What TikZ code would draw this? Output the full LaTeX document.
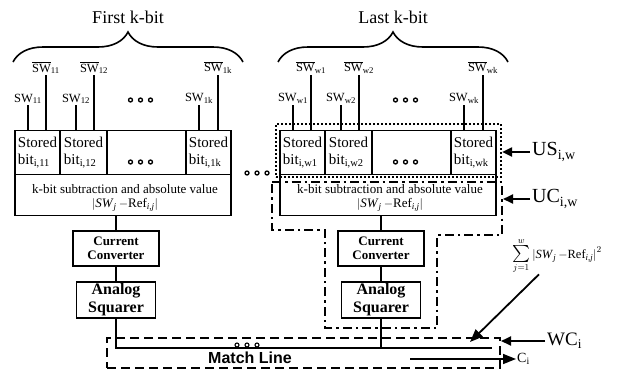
\documentclass[tikz,border=0pt]{standalone}
\usepackage{fontspec}
\usepackage{graphicx}
\setmainfont{Liberation Serif}
\newfontfamily\arialfont{Liberation Sans}
\usepackage{tikz}
\usetikzlibrary{positioning,arrows.meta,decorations.pathreplacing}

\tikzset{
  cellbox/.style={draw, line width=1.4pt, minimum height=43.6pt, inner sep=0pt, align=left, font=\fontsize{15}{17}\selectfont},
  subbox/.style={draw, line width=1.4pt, minimum width=216pt, minimum height=41.4pt, inner sep=0pt},
  subtxt/.style={inner sep=0pt, align=center, font=\fontsize{13}{15}\selectfont},
  ccbox/.style={draw, line width=1.4pt, minimum width=86pt, minimum height=35pt, inner sep=0pt, align=center, font=\fontsize{13}{14}\selectfont\bfseries},
  asbox/.style={draw, line width=1.4pt, minimum width=79pt, minimum height=36pt, inner sep=0pt, align=center, font=\fontsize{16}{18}\selectfont\bfseries},
  swlbl/.style={anchor=south, inner sep=1pt, font=\fontsize{12.5}{13}\selectfont},
  ttl/.style={font=\fontsize{18}{18}\selectfont},
  wire/.style={line width=1.5pt},
  link/.style={line width=1.4pt},
  brc/.style={line width=1.6pt, decorate, decoration={brace, amplitude=30pt}},
  usbox/.style={draw, line width=2.2pt, dash pattern=on 2pt off 2pt, inner sep=0pt},
  ucline/.style={line width=2.2pt, dash pattern=on 9pt off 4pt on 2.5pt off 4pt},
  wcbox/.style={draw, line width=2pt, dash pattern=on 9pt off 5pt, inner sep=0pt},
  bigtag/.style={anchor=west, inner sep=2pt, font=\fontsize{20}{20}\selectfont},
  bigarr/.style={line width=2pt, -{Triangle[length=10pt,width=9pt]}},
  ciarr/.style={line width=1.5pt, -{Triangle[length=13pt,width=10pt]}},
  ooo/.pic={\foreach \dx in {-10,0,10} \draw[line width=1.3pt] (\dx,0) circle (2pt);}
}

\begin{document}
\begin{tikzpicture}[x=1pt, y=-1pt]
  \useasboundingbox (0,0) rectangle (617,372);

  % one k-bit block per word position
  \foreach \b/\ox/\ix/\ttl in {f/0/1/First k-bit, l/265/w/Last k-bit}{
    \begin{scope}[xshift=\ox]
      \node[cellbox, minimum width=45pt] (\b-c1) at (37.5,152.5) {Stored\\bit\textsubscript{i,\ix1}};
      \node[cellbox, minimum width=47pt] (\b-c2) at (83.5,152.5) {Stored\\bit\textsubscript{i,\ix2}};
      \node[cellbox, minimum width=79pt] (\b-c3) at (146.5,152.5) {};
      \node[cellbox, minimum width=45pt] (\b-c4) at (208.5,152.5) {Stored\\bit\textsubscript{i,\ix k}};
      \pic at (140.5,162) {ooo};
      \node[subbox] (\b-sub) at (123,195) {};
      \node[subtxt] (\b-subt) at (125,198) {k-bit subtraction and absolute value\\[-1pt]
        $\bigl|$\textit{SW}\textsubscript{\textit{j}}\,$-$Ref\textsubscript{\textit{i,j}}$\bigr|$};
      \node[ccbox] (\b-cc) at (116,248.5) {Current\\Converter};
      \node[asbox] (\b-as) at (116,300) {Analog\\Squarer};
      \draw[link] (\b-cc.north |- \b-sub.south) -- (\b-cc.north);
      \draw[link] (\b-cc.south) -- (\b-as.north);

      % switch inputs
      \node[swlbl] (\b-s1) at (28,105) {SW\textsubscript{\ix1}};
      \node[swlbl] (\b-n1) at (46,75) {$\overline{\mbox{SW}}$\textsubscript{\ix1}};
      \node[swlbl] (\b-s2) at (76,105) {SW\textsubscript{\ix2}};
      \node[swlbl] (\b-n2) at (94,75) {$\overline{\mbox{SW}}$\textsubscript{\ix2}};
      \node[swlbl] (\b-s4) at (199,105) {SW\textsubscript{\ix k}};
      \node[swlbl] (\b-n4) at (218,75) {$\overline{\mbox{SW}}$\textsubscript{\ix k}};
      \draw[wire] (\b-s1.south) -- (\b-s1.south |- \b-c1.north);
      \draw[wire] (\b-n1.south) -- (\b-n1.south |- \b-c1.north);
      \draw[wire] (\b-s2.south) -- (\b-s2.south |- \b-c2.north);
      \draw[wire] (\b-n2.south) -- (\b-n2.south |- \b-c2.north);
      \draw[wire] (\b-s4.south) -- (\b-s4.south |- \b-c4.north);
      \draw[wire] (\b-n4.south) -- (\b-n4.south |- \b-c4.north);
      \pic at (140.5,100) {ooo};

      \draw[brc] (13,62) -- (243,62);
      \node[ttl] (\b-ttl) at (128,17) {\ttl};
    \end{scope}
  }
  \pic at (257,173) {ooo};

  % match line
  \coordinate (mlend) at (492,348);
  \draw[link] (f-as.south) |- (mlend);
  \draw[link] (l-as.south) -- (l-as.south |- mlend);
  \foreach \cx in {237,247,257}
    \draw[line width=1.1pt, fill=white] (\cx,345) circle (2pt);
  \node[font=\arialfont\bfseries\fontsize{16}{16}\selectfont] (mlbl) at (250,358) {Match Line};

  % group outlines
  \node[usbox, minimum width=225pt, minimum height=53pt] (us) at (388.5,150.5) {};
  \draw[ucline] (272,182) -- (502,182) -- (502,235) -- (437,235) -- (437,328)
    -- (325,328) -- (325,230) -- (272,230) -- cycle;
  \coordinate (uc-e) at (503,199);
  \node[wcbox, minimum width=393pt, minimum height=30pt] (wc) at (303.5,353) {};

  % tags
  \node[bigtag] (uslbl) at (530,152) {US\textsubscript{i,w}};
  \draw[bigarr] (uslbl.west) -- (us.east |- uslbl.west);
  \node[bigtag] (uclbl) at (530,199) {UC\textsubscript{i,w}};
  \draw[bigarr] (uclbl.west) -- (uc-e);
  \node[bigtag, font=\fontsize{19}{19}\selectfont] (wclbl) at (545,341) {WC\textsubscript{i}};
  \draw[bigarr] (wclbl.west) -- (wclbl.west -| wc.east);

  \coordinate (ci-start) at (410,359);
  \node[anchor=west, inner sep=1pt, font=\fontsize{14}{14}\selectfont] (cilbl) at (516,359) {C\textsubscript{i}};
  \draw[ciarr] (ci-start) -- (cilbl.west);

  \node[inner sep=1pt, font=\fontsize{12.5}{13}\selectfont] (sumlbl) at (557,256)
    {$\mathop{\raisebox{-1pt}{\scalebox{1.7}{$\sum$}}}\limits_{j=1}^{w}$\,$\bigl|$\textit{SW}\textsubscript{\textit{j}}\,$-$Ref\textsubscript{\textit{i,j}}$\bigr|^{2}$};
  \coordinate (sumtip) at (470,342);
  \draw[ciarr, line width=1.8pt] ([xshift=-18pt]sumlbl.south) -- (sumtip);
\end{tikzpicture}
\end{document}
